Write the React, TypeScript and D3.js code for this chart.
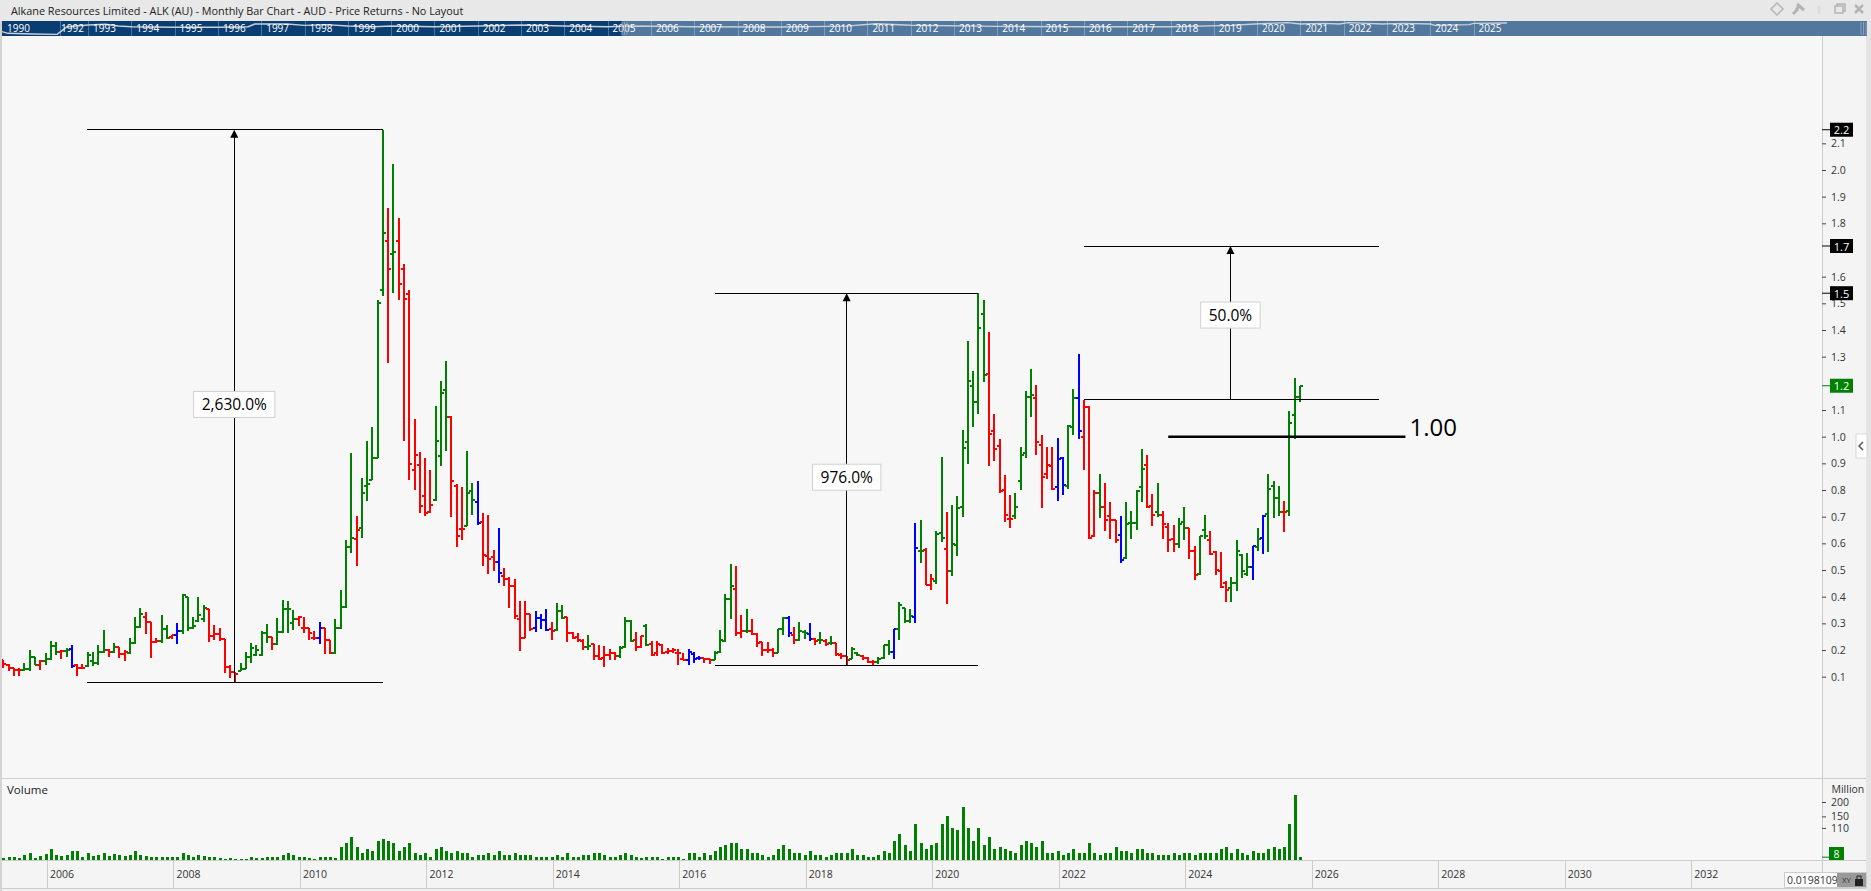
import React, { useEffect, useRef } from 'react';
import * as d3 from 'd3';

const WIDTH = 1871;
const HEIGHT = 891;
const FONT = '"Open Sans", "Noto Sans", sans-serif';

const opens = [
  .162, .144, .131, .125, .125, .129, .173, .144, .159, .166,
  .215, .191, .197, .202, .144, .131, .140, .159, .150, .194,
  .200, .191, .210, .185, .188, .225, .288, .325, .304, .229,
  .234, .279, .247, .256, .272, .400, .281, .310, .315, .353,
  .253, .260, .240, .138, .119, .121, .130, .175, .181, .181,
  .263, .247, .221, .269, .353, .300, .316, .281, .281, .246,
  .246, .281, .236, .188, .281, .363, .585, .616, .659, .816,
  .838, .921, 1.550, 1.735, 1.685, 1.735, 1.630, 1.536, .876, .895,
  .779, .719, .764, .929, 1.176, 1.075, .816, .655, .666, .797,
  .756, .679, .553, .549, .531, .479, .465, .440, .318, .246,
  .336, .284, .321, .313, .280, .275, .348, .323, .265, .249,
  .235, .213, .223, .179, .171, .183, .190, .179, .213, .310,
  .239, .213, .291, .224, .190, .220, .194, .198, .190, .168,
  .164, .186, .171, .171, .168, .163, .193, .235, .390, .428,
  .265, .273, .273, .261, .231, .201, .201, .190, .277, .321,
  .258, .239, .269, .261, .243, .239, .235, .228, .225, .183,
  .178, .165, .190, .178, .170, .154, .154, .170, .220, .194,
  .280, .356, .310, .325, .571, .575, .443, .458, .640, .580,
  .498, .595, .736, .981, 1.191, 1.131, 1.461, 1.236, 1.022, .966,
  .800, .690, .703, .835, .938, 1.150, 1.146, .970, .861, .891,
  .813, .921, .816, 1.038, 1.146, 1.000, 1.113, .629, .790, .738,
  .704, .689, .633, .544, .678, .678, .813, .895, .741, .718,
  .708, .663, .618, .599, .681, .659, .573, .486, .651, .613,
  .569, .498, .453, .434, .453, .558, .486, .513, .588, .621,
  .711, .816, .771, .719, .723, 1.083, 1.150,
];

const highs = [
  .162, .148, .131, .131, .150, .200, .175, .162, .188, .234,
  .231, .200, .209, .219, .146, .146, .191, .191, .219, .275,
  .202, .225, .213, .200, .244, .323, .356, .344, .304, .244,
  .331, .294, .256, .301, .410, .400, .325, .398, .369, .353,
  .294, .281, .240, .144, .119, .150, .194, .225, .219, .271,
  .296, .247, .319, .388, .384, .350, .329, .323, .284, .272,
  .304, .281, .236, .315, .425, .612, .938, .703, .844, .982,
  1.035, 1.511, 2.151, 1.856, 2.021, 1.819, 1.646, 1.549, 1.065, .941,
  .919, .875, 1.114, 1.207, 1.283, 1.076, .821, .810, .945, .825,
  .832, .713, .705, .574, .656, .506, .475, .465, .383, .383,
  .336, .345, .334, .353, .304, .375, .368, .323, .269, .263,
  .241, .256, .223, .219, .215, .204, .193, .214, .323, .314,
  .266, .254, .299, .235, .233, .223, .206, .206, .204, .190,
  .202, .194, .179, .171, .168, .198, .274, .409, .521, .514,
  .330, .353, .315, .263, .231, .229, .206, .280, .323, .326,
  .285, .304, .274, .300, .246, .266, .240, .251, .228, .190,
  .179, .210, .194, .181, .175, .161, .175, .220, .236, .280,
  .379, .356, .353, .675, .686, .581, .484, .645, .922, .716,
  .743, .776, 1.024, 1.358, 1.245, 1.538, 1.511, 1.391, 1.084, .990,
  .855, .780, .788, .960, 1.170, 1.253, 1.193, 1.005, .960, .960,
  .994, .923, 1.043, 1.178, 1.309, 1.139, 1.116, .799, .859, .825,
  .754, .689, .701, .754, .720, .801, .953, .930, .784, .825,
  .720, .678, .668, .694, .735, .659, .590, .629, .705, .645,
  .573, .566, .460, .475, .611, .559, .563, .591, .656, .705,
  .859, .833, .814, .758, 1.095, 1.219, 1.191,
];

const lows = [
  .131, .123, .104, .104, .123, .123, .144, .126, .145, .162,
  .181, .166, .175, .134, .104, .131, .138, .140, .145, .190,
  .175, .190, .169, .160, .184, .222, .281, .261, .171, .225,
  .228, .243, .243, .224, .261, .272, .278, .306, .306, .231,
  .238, .234, .115, .096, .079, .121, .128, .150, .179, .179,
  .228, .200, .219, .265, .265, .275, .291, .263, .238, .238,
  .224, .185, .184, .184, .278, .356, .565, .516, .621, .760,
  .838, .919, 1.529, 1.277, 1.540, 1.514, .985, .839, .801, .715,
  .704, .715, .760, .891, .948, .700, .588, .614, .665, .708,
  .670, .516, .486, .498, .453, .441, .359, .318, .198, .246,
  .273, .269, .280, .273, .239, .273, .315, .231, .240, .231,
  .201, .201, .164, .164, .138, .164, .164, .171, .209, .231,
  .198, .209, .216, .179, .179, .186, .186, .190, .145, .164,
  .145, .153, .164, .153, .148, .163, .190, .231, .316, .254,
  .246, .265, .258, .210, .179, .190, .175, .188, .258, .250,
  .224, .235, .243, .235, .220, .224, .216, .219, .179, .165,
  .144, .165, .179, .163, .150, .143, .148, .165, .183, .168,
  .239, .300, .303, .300, .528, .443, .426, .446, .604, .374,
  .479, .554, .700, .899, 1.038, 1.086, 1.206, .891, .910, .788,
  .681, .659, .693, .801, .921, 1.075, .933, .734, .843, .801,
  .760, .783, .803, 1.008, .993, .876, .618, .625, .696, .648,
  .616, .603, .528, .540, .618, .651, .756, .734, .666, .700,
  .618, .569, .569, .584, .614, .543, .464, .483, .618, .555,
  .483, .434, .381, .381, .423, .471, .479, .464, .573, .561,
  .569, .696, .704, .644, .704, .993, 1.131,
];

const closes = [
  .148, .131, .125, .125, .129, .173, .144, .159, .166, .215,
  .194, .197, .200, .140, .131, .134, .181, .150, .194, .200,
  .194, .213, .185, .194, .225, .288, .334, .306, .229, .235,
  .279, .244, .256, .272, .406, .281, .290, .331, .356, .253,
  .260, .240, .138, .119, .110, .130, .175, .206, .200, .263,
  .250, .222, .269, .353, .353, .315, .323, .281, .265, .246,
  .284, .238, .190, .281, .360, .585, .620, .650, .790, .824,
  .921, 1.503, 1.765, 1.630, 1.694, 1.574, 1.516, .899, .933, .741,
  .715, .745, .985, 1.165, 1.075, .835, .629, .655, .790, .764,
  .678, .556, .541, .531, .490, .465, .440, .329, .246, .336,
  .280, .321, .313, .276, .273, .345, .321, .265, .246, .239,
  .213, .216, .179, .168, .183, .190, .179, .209, .310, .235,
  .213, .254, .220, .183, .224, .190, .198, .201, .190, .164,
  .194, .168, .171, .168, .163, .190, .239, .390, .441, .265,
  .273, .273, .261, .225, .201, .201, .190, .280, .321, .265,
  .239, .273, .265, .243, .235, .239, .224, .228, .185, .178,
  .163, .203, .183, .170, .156, .154, .168, .220, .194, .280,
  .368, .310, .328, .583, .571, .443, .468, .634, .621, .498,
  .599, .733, .959, 1.210, 1.131, 1.409, 1.233, 1.011, .955, .795,
  .708, .693, .738, .933, 1.150, 1.158, .980, .850, .895, .805,
  .918, .820, 1.041, 1.146, 1.023, 1.113, .621, .790, .738, .689,
  .689, .613, .538, .674, .678, .798, .880, .738, .708, .708,
  .674, .614, .599, .674, .659, .573, .483, .629, .629, .559,
  .501, .438, .426, .453, .573, .498, .513, .591, .618, .704,
  .805, .771, .719, .719, 1.053, 1.148, 1.191,
];

// g = up signal, r = down signal, b = neutral signal, one letter per month
const signals = (
  'rrrrgggrgg' + 'grgbrrgggg' + 'rgrrgggrrr' + 'ggrbgggggr' + 'rrrrrggggg' +
  'grggggrrrr' + 'brrggggrgg' + 'gggrgrrrrr' + 'rrgggrrrgg' + 'brrrbrrrrr' +
  'rbbbrggrrr' + 'rgrrrrrggg' + 'rrgrrrrrrr' + 'bbbrrggggr' + 'rgrrrrrggb' +
  'rggbrgrgrr' + 'rggrrrgggb' + 'gggbgrrggr' + 'gggggggrrr' + 'rrggggrrrr' +
  'bbggbrrrgr' + 'rrbggggrrg' + 'rrrggrrggr' + 'rrrggggbgb' + 'gggrggg'
).split('');

// monthly volume, millions
const volumes = [
  6, 9, 9, 6, 14, 21, 5, 12, 19, 35,
  14, 12, 14, 31, 31, 9, 24, 13, 16, 24,
  12, 20, 15, 12, 14, 31, 15, 12, 10, 8,
  10, 9, 8, 8, 21, 14, 8, 14, 12, 10,
  7, 6, 2, 6, 3, 3, 2, 7, 6, 5,
  10, 10, 9, 15, 21, 14, 9, 7, 6, 3,
  7, 10, 7, 6, 42, 56, 80, 42, 21, 38,
  31, 63, 70, 63, 56, 28, 45, 59, 24, 17,
  21, 10, 38, 42, 28, 24, 31, 21, 24, 10,
  14, 14, 24, 14, 28, 14, 14, 21, 17, 14,
  14, 7, 9, 10, 10, 14, 10, 24, 7, 7,
  14, 14, 24, 21, 17, 7, 7, 14, 21, 14,
  10, 6, 9, 7, 7, 3, 9, 7, 7, 3,
  21, 21, 10, 24, 17, 28, 45, 49, 59, 59,
  38, 38, 21, 21, 17, 9, 17, 38, 49, 35,
  24, 24, 14, 28, 17, 14, 7, 14, 21, 21,
  21, 38, 14, 14, 10, 10, 14, 28, 24, 63,
  90, 52, 31, 125, 59, 38, 52, 59, 122, 153,
  108, 101, 184, 108, 66, 111, 52, 80, 38, 42,
  35, 28, 24, 49, 66, 56, 45, 66, 24, 24,
  28, 17, 24, 38, 21, 21, 56, 21, 17, 21,
  21, 45, 31, 28, 21, 35, 35, 21, 21, 17,
  14, 17, 24, 17, 21, 24, 17, 24, 24, 24,
  21, 38, 45, 21, 38, 21, 17, 28, 21, 24,
  38, 45, 38, 45, 125, 226, 10,
];

// 1.2 and 1.7 sit fully behind their flags in the platform, so no label for them
const priceTicks = [.1, .2, .3, .4, .5, .6, .7, .8, .9, 1, 1.1, 1.3, 1.4, 1.5, 1.6, 1.8, 1.9, 2, 2.1];
const volumeTicks = [110, 150, 200];
const dateTicks = [2006, 2008, 2010, 2012, 2014, 2016, 2018, 2020, 2022, 2024, 2026, 2028, 2030, 2032];
const navYears = [
  1990, 1992, 1993, 1994, 1995, 1996, 1997, 1998, 1999, 2000, 2001, 2002, 2003, 2004, 2005, 2006, 2007,
  2008, 2009, 2010, 2011, 2012, 2013, 2014, 2015, 2016, 2017, 2018, 2019, 2020, 2021, 2022, 2023, 2024, 2025,
];

// overview line in the navigator strip, position in the strip 0..1
const navLineYears = [
  1990, 1990.2, 1991.07, 1991.9, 1992.07, 1992.25, 1993, 1993.4, 1993.7, 1994, 1995, 1996, 1996.7, 1996.85,
  1997.6, 1998, 1998.5, 1999, 1999.6, 2000, 2001, 2002, 2003, 2004, 2005, 2005.5, 2007, 2009, 2010.5, 2011.2,
  2012, 2014, 2016, 2018, 2019.4, 2019.95, 2020.7, 2021, 2021.55, 2021.9, 2022.1, 2022.9, 2023.4, 2024, 2024.1,
  2024.9, 2025, 2025.77,
];
const navLineLevels = [
  .29, .18, .13, .11, .36, .62, .73, .78, .67, .62, .58, .58, .62, .8,
  .8, .71, .76, .67, .62, .67, .62, .67, .73, .67, .62, .67, .62, .6, .66, .82,
  .72, .64, .62, .62, .71, .8, .89, .8, .84, .8, .89, .8, .84, .8, .71,
  .76, .84, .87,
];

// measure tools drawn on the chart: bar index range and price range
const measures = [
  { from: 15.9, to: 72, at: 43.8, low: .079, high: 2.151, label: '2,630.0%', labelPrice: 1.121 },
  { from: 135, to: 185, at: 160, low: .143, high: 1.538, label: '976.0%', labelPrice: .848 },
  { from: 205, to: 261, at: 232.8, low: 1.139, high: 1.715, label: '50.0%', labelPrice: 1.456 },
];
const levelLine = { from: 221, to: 266, price: 1.0, label: '1.00' };
const priceFlags = [
  { value: 2.151, fill: '#000000' },
  { value: 1.715, fill: '#000000' },
  { value: 1.538, fill: '#000000' },
  { value: 1.191, fill: '#008000' },
];
const lastVolume = 8;

const signalColors: Record<string, string> = { g: '#008000', r: '#ff0000', b: '#0000ff' };

export default function App() {
  const svgRef = useRef<SVGSVGElement>(null);

  useEffect(() => {
    if (!svgRef.current) return;
    const svg = d3.select(svgRef.current);
    svg.selectAll('*').remove();

    const plotRight = 1822;
    const priceBottom = 778;
    const volumeBottom = 860;
    const dateBottom = 888;

    const x = d3.scaleLinear().domain([0, 246]).range([3.4, 1300]);
    const xYear = (year: number) => x((year - 2005) * 12 - 3.75);
    const y = d3.scaleLinear().domain([0.1, 2.0]).range([676.7, 170]);
    const yVol = d3.scaleLinear().domain([0, 200]).range([859.5, 802]);
    const xNav = d3.scaleLinear().domain([1990, 1992, 1993, 2025]).range([2, 60, 88, 1473.6]);
    const yNav = d3.scaleLinear().domain([0, 1]).range([36, 21]);

    // backgrounds
    svg.append('rect').attr('width', WIDTH).attr('height', HEIGHT).attr('fill', '#f7f7f7');
    svg.append('rect').attr('width', WIDTH).attr('height', 21).attr('fill', '#e8e8e8');
    svg.append('rect').attr('x', plotRight).attr('y', 36).attr('width', WIDTH - plotRight).attr('height', HEIGHT - 36).attr('fill', '#f4f4f4');
    svg.append('rect').attr('y', volumeBottom).attr('width', plotRight).attr('height', dateBottom - volumeBottom).attr('fill', '#f4f4f4');
    svg.append('rect').attr('y', dateBottom).attr('width', WIDTH).attr('height', HEIGHT - dateBottom).attr('fill', '#f0f0f0');
    svg.append('rect').attr('y', 21).attr('width', 2).attr('height', HEIGHT - 21).attr('fill', '#d4d4d4');
    svg.append('rect').attr('x', 1866).attr('y', 21).attr('width', WIDTH - 1866).attr('height', HEIGHT - 21).attr('fill', '#e4e4e4');

    const borders = [
      [plotRight, 36, plotRight, dateBottom],
      [2, priceBottom, 1866, priceBottom],
      [2, volumeBottom, 1866, volumeBottom],
      [2, dateBottom, 1866, dateBottom],
    ];
    svg.append('g').selectAll('line').data(borders).enter().append('line')
      .attr('x1', d => d[0]).attr('y1', d => d[1]).attr('x2', d => d[2]).attr('y2', d => d[3])
      .attr('stroke', '#cccccc').attr('stroke-width', 1).attr('shape-rendering', 'crispEdges');

    // title
    svg.append('text').attr('x', 11).attr('y', 14.5)
      .style('font-family', FONT).style('font-size', '10.85px').attr('fill', '#222222')
      .text('Alkane Resources Limited - ALK (AU) - Monthly Bar Chart - AUD - Price Returns - No Layout');

    // window icons
    const icons = svg.append('g').attr('fill', 'none').attr('stroke', '#b4b4b4').attr('stroke-width', 1.5);
    icons.append('path').attr('d', 'M1777 3 L1783 9 L1777 15 L1771 9 Z');
    icons.append('path').attr('d', 'M1793 14 L1798 9 M1797 4 L1804 10 M1796 10 L1800 5').attr('stroke-width', 3);
    icons.append('path').attr('d', 'M1819 6 L1819 14').attr('stroke', '#dddddd').attr('stroke-width', 3);
    icons.append('rect').attr('x', 1835).attr('y', 6).attr('width', 8).attr('height', 7);
    icons.append('path').attr('d', 'M1837 6 L1837 4 L1845 4 L1845 11 L1843 11');
    icons.append('path').attr('d', 'M1855 5 L1863 13 M1863 5 L1855 13').attr('stroke-width', 2.5);

    // navigator strip
    const nav = svg.append('g');
    nav.append('rect').attr('x', 2).attr('y', 21).attr('width', 1865).attr('height', 15).attr('fill', '#52789e');
    nav.append('rect').attr('x', 2).attr('y', 21).attr('width', 620).attr('height', 15).attr('fill', '#0a3d72');
    nav.selectAll('line.sep').data(navYears.slice(1)).enter().append('line')
      .attr('class', 'sep')
      .attr('x1', d => Math.round(xNav(d)) + 0.5).attr('x2', d => Math.round(xNav(d)) + 0.5)
      .attr('y1', 21).attr('y2', 36)
      .attr('stroke', '#ffffff').attr('stroke-opacity', 0.28);
    const navLine = d3.line<number>()
      .x(d => xNav(d))
      .y((_, i) => yNav(navLineLevels[i]));
    nav.append('path').attr('d', navLine(navLineYears) as string)
      .attr('fill', 'none').attr('stroke', '#c9d1d8').attr('stroke-width', 1.4);
    nav.selectAll('text').data(navYears).enter().append('text')
      .attr('x', d => (d === 1990 ? 7 : d === 1992 ? 61 : xNav(d) + 5))
      .attr('y', 32)
      .style('font-family', FONT).style('font-size', '10px')
      .attr('fill', '#ffffff')
      .text(d => String(d));
    [622, 624.5, 627, 1861, 1863.5, 1866].forEach(gx => {
      nav.append('line').attr('x1', gx).attr('x2', gx).attr('y1', 22).attr('y2', 35)
        .attr('stroke', '#8aa0b6').attr('stroke-width', 1);
    });

    // clip so the first bars stop at the pane edge
    svg.append('defs').append('clipPath').attr('id', 'plot-clip')
      .append('rect').attr('x', 2).attr('y', 36).attr('width', plotRight - 2).attr('height', priceBottom - 36);

    // ohlc bars
    const bars = svg.append('g').attr('clip-path', 'url(#plot-clip)').attr('shape-rendering', 'crispEdges');
    const bar = bars.selectAll('g').data(d3.range(closes.length)).enter().append('g')
      .attr('stroke', i => signalColors[signals[i]])
      .attr('stroke-width', 2);
    const barX = (i: number) => Math.round(x(i));
    bar.append('line')
      .attr('x1', barX).attr('x2', barX)
      .attr('y1', i => y(highs[i])).attr('y2', i => y(lows[i]));
    bar.append('line')
      .attr('x1', i => barX(i) - 3).attr('x2', barX)
      .attr('y1', i => y(opens[i])).attr('y2', i => y(opens[i]));
    bar.append('line')
      .attr('x1', barX).attr('x2', i => barX(i) + 3)
      .attr('y1', i => y(closes[i])).attr('y2', i => y(closes[i]));

    // measure tools
    const tools = svg.append('g');
    measures.forEach(m => {
      const hLine = (price: number) => tools.append('line')
        .attr('x1', x(m.from)).attr('x2', x(m.to))
        .attr('y1', y(price)).attr('y2', y(price))
        .attr('stroke', '#000').attr('stroke-width', 1).attr('shape-rendering', 'crispEdges');
      hLine(m.low);
      hLine(m.high);
      const ax = x(m.at);
      tools.append('line')
        .attr('x1', ax).attr('x2', ax)
        .attr('y1', y(m.low)).attr('y2', y(m.high) + 6)
        .attr('stroke', '#000').attr('stroke-width', 1).attr('shape-rendering', 'crispEdges');
      tools.append('path')
        .attr('d', `M${ax} ${y(m.high)} L${ax + 4} ${y(m.high) + 8} L${ax - 4} ${y(m.high) + 8} Z`)
        .attr('fill', '#000');
      const label = tools.append('g').attr('transform', `translate(${ax},${y(m.labelPrice)})`);
      const text = label.append('text')
        .attr('text-anchor', 'middle').attr('dominant-baseline', 'central')
        .style('font-family', FONT).style('font-size', '15.5px').attr('fill', '#000')
        .text(m.label);
      const w = (text.node() as SVGTextElement).getComputedTextLength() + 16;
      label.insert('rect', 'text')
        .attr('x', -w / 2).attr('y', -13).attr('width', w).attr('height', 26)
        .attr('fill', '#ffffff').attr('stroke', '#d0d0d0');
    });

    // 1.00 level
    tools.append('line')
      .attr('x1', x(levelLine.from)).attr('x2', x(levelLine.to))
      .attr('y1', y(levelLine.price)).attr('y2', y(levelLine.price))
      .attr('stroke', '#000').attr('stroke-width', 2.4);
    tools.append('text')
      .attr('x', x(levelLine.to) + 4).attr('y', y(levelLine.price) - 10)
      .attr('dominant-baseline', 'central')
      .style('font-family', FONT).style('font-size', '24px').attr('fill', '#000')
      .text(levelLine.label);

    // volume
    svg.append('text').attr('x', 7).attr('y', 794)
      .style('font-family', FONT).style('font-size', '11.5px').attr('fill', '#222222')
      .text('Volume');
    svg.append('g').attr('shape-rendering', 'crispEdges')
      .selectAll('rect').data(volumes).enter().append('rect')
      .attr('x', (_, i) => barX(i) - 1)
      .attr('width', 3)
      .attr('y', d => yVol(d))
      .attr('height', d => volumeBottom - yVol(d))
      .attr('fill', '#008000');

    // date axis
    const dates = svg.append('g');
    dates.selectAll('line').data(dateTicks).enter().append('line')
      .attr('x1', d => Math.round(xYear(d)) + 0.5).attr('x2', d => Math.round(xYear(d)) + 0.5)
      .attr('y1', volumeBottom).attr('y2', dateBottom)
      .attr('stroke', '#cccccc');
    dates.selectAll('text').data(dateTicks).enter().append('text')
      .attr('x', d => xYear(d) + 3).attr('y', 878)
      .style('font-family', FONT).style('font-size', '10.5px').attr('fill', '#333333')
      .text(d => String(d));

    // price axis
    const priceAxis = d3.axisRight(y).tickValues(priceTicks).tickSize(4).tickPadding(5)
      .tickFormat(d => d3.format('.1f')(d as number));
    const gPrice = svg.append('g').attr('transform', `translate(${plotRight},0)`).call(priceAxis);
    gPrice.select('.domain').remove();
    gPrice.selectAll('line').attr('stroke', '#444444');
    gPrice.selectAll('text').style('font-family', FONT).style('font-size', '10.5px').attr('fill', '#333333');

    const flags = svg.append('g');
    priceFlags.forEach(f => {
      const fy = y(f.value);
      flags.append('line').attr('x1', plotRight).attr('x2', plotRight + 8).attr('y1', fy).attr('y2', fy)
        .attr('stroke', f.fill);
      flags.append('rect').attr('x', 1830).attr('y', fy - 7).attr('width', 23).attr('height', 14).attr('fill', f.fill);
      flags.append('text').attr('x', 1841.5).attr('y', fy)
        .attr('text-anchor', 'middle').attr('dominant-baseline', 'central')
        .style('font-family', FONT).style('font-size', '11px').attr('fill', '#ffffff')
        .text(d3.format('.1f')(f.value));
    });

    // collapse handle
    svg.append('rect').attr('x', 1856).attr('y', 434).attr('width', 11).attr('height', 24)
      .attr('fill', '#ffffff').attr('stroke', '#d8d8d8');
    svg.append('path').attr('d', 'M1863 442 L1859 446 L1863 450').attr('fill', 'none')
      .attr('stroke', '#555555').attr('stroke-width', 1.5);

    // volume axis
    const volAxis = d3.axisRight(yVol).tickValues(volumeTicks).tickSize(4).tickPadding(5);
    const gVol = svg.append('g').attr('transform', `translate(${plotRight},0)`).call(volAxis);
    gVol.select('.domain').remove();
    gVol.selectAll('line').attr('stroke', '#444444');
    gVol.selectAll('text').style('font-family', FONT).style('font-size', '10.5px').attr('fill', '#333333');
    svg.append('text').attr('x', 1831.5).attr('y', 793)
      .style('font-family', FONT).style('font-size', '10.5px').attr('fill', '#333333')
      .text('Million');
    svg.append('line').attr('x1', plotRight).attr('x2', 1829)
      .attr('y1', yVol(lastVolume)).attr('y2', yVol(lastVolume)).attr('stroke', '#008000');
    svg.append('rect').attr('x', 1829).attr('y', 847).attr('width', 15).attr('height', 13).attr('fill', '#008000');
    svg.append('text').attr('x', 1836.5).attr('y', 853.5)
      .attr('text-anchor', 'middle').attr('dominant-baseline', 'central')
      .style('font-family', FONT).style('font-size', '10.5px').attr('fill', '#ffffff')
      .text(lastVolume);

    // scale box, bottom right
    const box = svg.append('g');
    box.append('rect').attr('x', 1784.5).attr('y', 872.5).attr('width', 82).attr('height', 15)
      .attr('fill', '#ffffff').attr('stroke', '#cccccc');
    box.append('defs').append('clipPath').attr('id', 'box-clip')
      .append('rect').attr('x', 1785).attr('y', 872).attr('width', 52).attr('height', 16);
    box.append('text').attr('x', 1787).attr('y', 884)
      .attr('clip-path', 'url(#box-clip)')
      .style('font-family', FONT).style('font-size', '10.5px').attr('fill', '#333333')
      .text('0.0198109');
    box.append('rect').attr('x', 1837).attr('y', 873).attr('width', 29).attr('height', 14).attr('fill', '#999999');
    box.append('text').attr('x', 1842).attr('y', 883)
      .style('font-family', FONT).style('font-size', '8px').attr('fill', '#333333')
      .text('XY');
    box.append('rect').attr('x', 1855).attr('y', 879).attr('width', 8).attr('height', 7).attr('fill', '#222222');
    box.append('path').attr('d', 'M1857 879 L1857 876 L1861 876 L1861 879').attr('fill', 'none').attr('stroke', '#222222');
  }, []);

  return (
    <svg
      ref={svgRef}
      width={WIDTH}
      height={HEIGHT}
      style={{ position: 'absolute', left: 0, top: 0, display: 'block' }}
    />
  );
}
